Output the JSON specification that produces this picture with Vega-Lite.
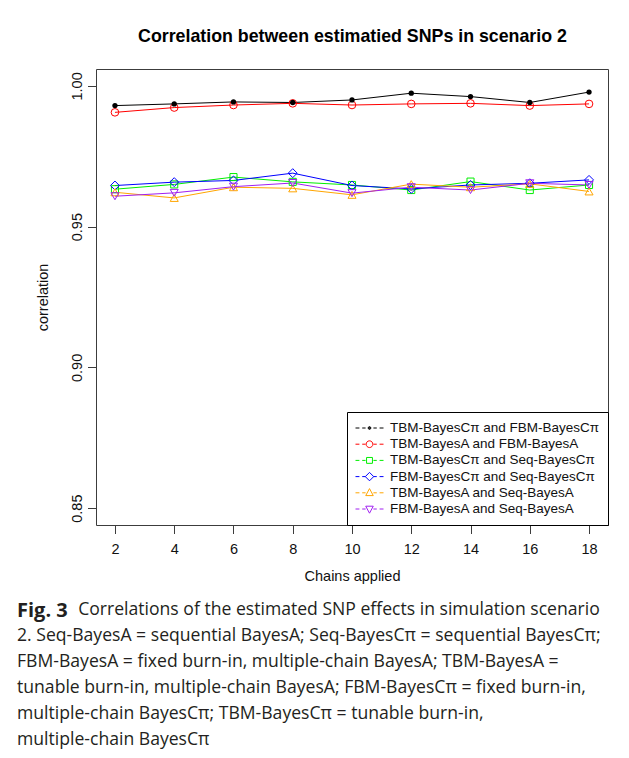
{
  "$schema": "https://vega.github.io/schema/vega-lite/v6.json",
  "width": 512,
  "height": 456,
  "autosize": {"type": "none"},
  "padding": {"left": 96, "top": 69, "right": 21, "bottom": 233},
  "background": "white",
  "title": {
    "text": "Fig. 3",
    "subtitle": [
      "\u2800\u2800\u2800\u2800\u00a0\u00a0Correlations of the estimated SNP effects in simulation scenario",
      "2. Seq-BayesA = sequential BayesA; Seq-BayesCπ = sequential BayesCπ;",
      "FBM-BayesA = fixed burn-in, multiple-chain BayesA; TBM-BayesA =",
      "tunable burn-in, multiple-chain BayesA; FBM-BayesCπ = fixed burn-in,",
      "multiple-chain  BayesCπ;  TBM-BayesCπ = tunable  burn-in,",
      "multiple-chain  BayesCπ"
    ],
    "orient": "bottom",
    "anchor": "start",
    "frame": "group",
    "dx": -79,
    "offset": 18,
    "font": "Open Sans",
    "fontSize": 20,
    "fontWeight": "bold",
    "color": "#231f20",
    "subtitleFont": "Open Sans",
    "subtitleFontSize": 17.6,
    "subtitleFontWeight": "normal",
    "subtitleColor": "#231f20",
    "subtitleLineHeight": 26,
    "subtitlePadding": -20
  },
  "data": {
    "values": [
      {"series": "TBM-BayesCπ and FBM-BayesCπ", "chains": 2, "corr": 0.9930},
      {"series": "TBM-BayesCπ and FBM-BayesCπ", "chains": 4, "corr": 0.9936},
      {"series": "TBM-BayesCπ and FBM-BayesCπ", "chains": 6, "corr": 0.9943},
      {"series": "TBM-BayesCπ and FBM-BayesCπ", "chains": 8, "corr": 0.9941},
      {"series": "TBM-BayesCπ and FBM-BayesCπ", "chains": 10, "corr": 0.9950},
      {"series": "TBM-BayesCπ and FBM-BayesCπ", "chains": 12, "corr": 0.9974},
      {"series": "TBM-BayesCπ and FBM-BayesCπ", "chains": 14, "corr": 0.9962},
      {"series": "TBM-BayesCπ and FBM-BayesCπ", "chains": 16, "corr": 0.9941},
      {"series": "TBM-BayesCπ and FBM-BayesCπ", "chains": 18, "corr": 0.9978},
      {"series": "TBM-BayesA and FBM-BayesA", "chains": 2, "corr": 0.9906},
      {"series": "TBM-BayesA and FBM-BayesA", "chains": 4, "corr": 0.9923},
      {"series": "TBM-BayesA and FBM-BayesA", "chains": 6, "corr": 0.9932},
      {"series": "TBM-BayesA and FBM-BayesA", "chains": 8, "corr": 0.9938},
      {"series": "TBM-BayesA and FBM-BayesA", "chains": 10, "corr": 0.9932},
      {"series": "TBM-BayesA and FBM-BayesA", "chains": 12, "corr": 0.9936},
      {"series": "TBM-BayesA and FBM-BayesA", "chains": 14, "corr": 0.9938},
      {"series": "TBM-BayesA and FBM-BayesA", "chains": 16, "corr": 0.9930},
      {"series": "TBM-BayesA and FBM-BayesA", "chains": 18, "corr": 0.9936},
      {"series": "TBM-BayesCπ and Seq-BayesCπ", "chains": 2, "corr": 0.9633},
      {"series": "TBM-BayesCπ and Seq-BayesCπ", "chains": 4, "corr": 0.9650},
      {"series": "TBM-BayesCπ and Seq-BayesCπ", "chains": 6, "corr": 0.9676},
      {"series": "TBM-BayesCπ and Seq-BayesCπ", "chains": 8, "corr": 0.9659},
      {"series": "TBM-BayesCπ and Seq-BayesCπ", "chains": 10, "corr": 0.9648},
      {"series": "TBM-BayesCπ and Seq-BayesCπ", "chains": 12, "corr": 0.9630},
      {"series": "TBM-BayesCπ and Seq-BayesCπ", "chains": 14, "corr": 0.9660},
      {"series": "TBM-BayesCπ and Seq-BayesCπ", "chains": 16, "corr": 0.9630},
      {"series": "TBM-BayesCπ and Seq-BayesCπ", "chains": 18, "corr": 0.9648},
      {"series": "FBM-BayesCπ and Seq-BayesCπ", "chains": 2, "corr": 0.9646},
      {"series": "FBM-BayesCπ and Seq-BayesCπ", "chains": 4, "corr": 0.9658},
      {"series": "FBM-BayesCπ and Seq-BayesCπ", "chains": 6, "corr": 0.9664},
      {"series": "FBM-BayesCπ and Seq-BayesCπ", "chains": 8, "corr": 0.9690},
      {"series": "FBM-BayesCπ and Seq-BayesCπ", "chains": 10, "corr": 0.9646},
      {"series": "FBM-BayesCπ and Seq-BayesCπ", "chains": 12, "corr": 0.9634},
      {"series": "FBM-BayesCπ and Seq-BayesCπ", "chains": 14, "corr": 0.9648},
      {"series": "FBM-BayesCπ and Seq-BayesCπ", "chains": 16, "corr": 0.9654},
      {"series": "FBM-BayesCπ and Seq-BayesCπ", "chains": 18, "corr": 0.9666},
      {"series": "TBM-BayesA and Seq-BayesA", "chains": 2, "corr": 0.9622},
      {"series": "TBM-BayesA and Seq-BayesA", "chains": 4, "corr": 0.9602},
      {"series": "TBM-BayesA and Seq-BayesA", "chains": 6, "corr": 0.9640},
      {"series": "TBM-BayesA and Seq-BayesA", "chains": 8, "corr": 0.9636},
      {"series": "TBM-BayesA and Seq-BayesA", "chains": 10, "corr": 0.9613},
      {"series": "TBM-BayesA and Seq-BayesA", "chains": 12, "corr": 0.9651},
      {"series": "TBM-BayesA and Seq-BayesA", "chains": 14, "corr": 0.9640},
      {"series": "TBM-BayesA and Seq-BayesA", "chains": 16, "corr": 0.9652},
      {"series": "TBM-BayesA and Seq-BayesA", "chains": 18, "corr": 0.9625},
      {"series": "FBM-BayesA and Seq-BayesA", "chains": 2, "corr": 0.9608},
      {"series": "FBM-BayesA and Seq-BayesA", "chains": 4, "corr": 0.9620},
      {"series": "FBM-BayesA and Seq-BayesA", "chains": 6, "corr": 0.9642},
      {"series": "FBM-BayesA and Seq-BayesA", "chains": 8, "corr": 0.9655},
      {"series": "FBM-BayesA and Seq-BayesA", "chains": 10, "corr": 0.9619},
      {"series": "FBM-BayesA and Seq-BayesA", "chains": 12, "corr": 0.9640},
      {"series": "FBM-BayesA and Seq-BayesA", "chains": 14, "corr": 0.9630},
      {"series": "FBM-BayesA and Seq-BayesA", "chains": 16, "corr": 0.9654},
      {"series": "FBM-BayesA and Seq-BayesA", "chains": 18, "corr": 0.9648}
    ]
  },
  "config": {
    "view": {"stroke": "#3c3c3c", "strokeWidth": 1},
    "font": "Liberation Sans",
    "axis": {
      "grid": false,
      "domain": false,
      "tickColor": "#3c3c3c",
      "tickSize": 8.5,
      "labelColor": "#111111",
      "titleColor": "#111111",
      "labelFont": "Liberation Sans",
      "titleFont": "Liberation Sans",
      "labelFontSize": 14.5,
      "titleFontSize": 14.5,
      "titleFontWeight": "normal"
    },
    "legend": {
      "orient": "bottom-right",
      "offset": 0,
      "padding": 8,
      "strokeColor": "#000000",
      "fillColor": "white",
      "labelFont": "Liberation Sans",
      "labelFontSize": 13.5,
      "labelColor": "#111111",
      "labelOffset": 6,
      "labelLimit": 400,
      "symbolSize": 784,
      "symbolStrokeWidth": 1,
      "symbolFillColor": "transparent",
      "symbolOpacity": 1,
      "rowPadding": 0.2,
      "clipHeight": 16
    }
  },
  "resolve": {"axis": {"x": "independent"}},
  "layer": [
    {
      "mark": {"type": "line", "strokeWidth": 1},
      "encoding": {
        "x": {
          "field": "chains", "type": "quantitative",
          "scale": {"domain": [1.36, 18.64], "nice": false, "zero": false},
          "axis": {"values": [2, 4, 6, 8, 10, 12, 14, 16, 18], "title": "Chains applied", "labelPadding": 9, "titlePadding": 13, "labelFlush": false}
        },
        "y": {
          "field": "corr", "type": "quantitative",
          "scale": {"domain": [0.844, 1.006], "nice": false, "zero": false},
          "axis": {"values": [0.85, 0.9, 0.95, 1.0], "format": ".2f", "labelAngle": 270, "labelAlign": "center", "labelBaseline": "alphabetic", "labelPadding": 6, "title": "correlation", "titlePadding": 19}
        },
        "color": {
          "field": "series", "type": "nominal",
          "scale": {
            "domain": ["TBM-BayesCπ and FBM-BayesCπ", "TBM-BayesA and FBM-BayesA", "TBM-BayesCπ and Seq-BayesCπ", "FBM-BayesCπ and Seq-BayesCπ", "TBM-BayesA and Seq-BayesA", "FBM-BayesA and Seq-BayesA"],
            "range": ["#000000", "#ff0000", "#00ee00", "#0000ff", "#ffa500", "#a020f0"]
          },
          "legend": {"title": null}
        }
      }
    },
    {
      "transform": [{"filter": "datum.series === 'TBM-BayesA and FBM-BayesA'"}],
      "mark": {"type": "point", "filled": false, "shape": "circle", "size": 58, "strokeWidth": 1, "opacity": 1},
      "encoding": {
        "x": {"field": "chains", "type": "quantitative", "axis": null},
        "y": {
          "field": "corr", "type": "quantitative",
          "scale": {"domain": [0.844, 1.006], "nice": false, "zero": false},
          "axis": {"values": [0.85, 0.9, 0.95, 1.0], "format": ".2f", "labelAngle": 270, "labelAlign": "center", "labelBaseline": "alphabetic", "labelPadding": 6, "title": "correlation", "titlePadding": 19}
        },
        "color": {"field": "series", "type": "nominal", "legend": {"title": null}}
      }
    },
    {
      "transform": [{"filter": "datum.series === 'TBM-BayesCπ and Seq-BayesCπ'"}],
      "mark": {"type": "point", "filled": false, "shape": "square", "size": 50, "strokeWidth": 1, "opacity": 1},
      "encoding": {
        "x": {"field": "chains", "type": "quantitative", "axis": null},
        "y": {
          "field": "corr", "type": "quantitative",
          "scale": {"domain": [0.844, 1.006], "nice": false, "zero": false},
          "axis": {"values": [0.85, 0.9, 0.95, 1.0], "format": ".2f", "labelAngle": 270, "labelAlign": "center", "labelBaseline": "alphabetic", "labelPadding": 6, "title": "correlation", "titlePadding": 19}
        },
        "color": {"field": "series", "type": "nominal", "legend": {"title": null}}
      }
    },
    {
      "transform": [{"filter": "datum.series === 'FBM-BayesCπ and Seq-BayesCπ'"}],
      "mark": {"type": "point", "filled": false, "shape": "diamond", "size": 80, "strokeWidth": 1, "opacity": 1},
      "encoding": {
        "x": {"field": "chains", "type": "quantitative", "axis": null},
        "y": {
          "field": "corr", "type": "quantitative",
          "scale": {"domain": [0.844, 1.006], "nice": false, "zero": false},
          "axis": {"values": [0.85, 0.9, 0.95, 1.0], "format": ".2f", "labelAngle": 270, "labelAlign": "center", "labelBaseline": "alphabetic", "labelPadding": 6, "title": "correlation", "titlePadding": 19}
        },
        "color": {"field": "series", "type": "nominal", "legend": {"title": null}}
      }
    },
    {
      "transform": [{"filter": "datum.series === 'TBM-BayesA and Seq-BayesA'"}],
      "mark": {"type": "point", "filled": false, "shape": "triangle-up", "size": 65, "strokeWidth": 1, "opacity": 1},
      "encoding": {
        "x": {"field": "chains", "type": "quantitative", "axis": null},
        "y": {
          "field": "corr", "type": "quantitative",
          "scale": {"domain": [0.844, 1.006], "nice": false, "zero": false},
          "axis": {"values": [0.85, 0.9, 0.95, 1.0], "format": ".2f", "labelAngle": 270, "labelAlign": "center", "labelBaseline": "alphabetic", "labelPadding": 6, "title": "correlation", "titlePadding": 19}
        },
        "color": {"field": "series", "type": "nominal", "legend": {"title": null}}
      }
    },
    {
      "transform": [{"filter": "datum.series === 'FBM-BayesA and Seq-BayesA'"}],
      "mark": {"type": "point", "filled": false, "shape": "triangle-down", "size": 65, "strokeWidth": 1, "opacity": 1},
      "encoding": {
        "x": {"field": "chains", "type": "quantitative", "axis": null},
        "y": {
          "field": "corr", "type": "quantitative",
          "scale": {"domain": [0.844, 1.006], "nice": false, "zero": false},
          "axis": {"values": [0.85, 0.9, 0.95, 1.0], "format": ".2f", "labelAngle": 270, "labelAlign": "center", "labelBaseline": "alphabetic", "labelPadding": 6, "title": "correlation", "titlePadding": 19}
        },
        "color": {"field": "series", "type": "nominal", "legend": {"title": null}}
      }
    },
    {
      "transform": [{"filter": "datum.series === 'TBM-BayesCπ and FBM-BayesCπ'"}],
      "mark": {"type": "point", "filled": true, "shape": "circle", "size": 28, "color": "#000000", "opacity": 1},
      "encoding": {
        "x": {"field": "chains", "type": "quantitative", "axis": null},
        "y": {
          "field": "corr", "type": "quantitative",
          "scale": {"domain": [0.844, 1.006], "nice": false, "zero": false},
          "axis": {"values": [0.85, 0.9, 0.95, 1.0], "format": ".2f", "labelAngle": 270, "labelAlign": "center", "labelBaseline": "alphabetic", "labelPadding": 6, "title": "correlation", "titlePadding": 19}
        }
      }
    },
    {
      "transform": [{"filter": "datum.chains > 100"}],
      "mark": {"type": "point", "filled": false, "strokeWidth": 1},
      "encoding": {
        "x": {"field": "chains", "type": "quantitative", "axis": null},
        "y": {
          "field": "corr", "type": "quantitative",
          "scale": {"domain": [0.844, 1.006], "nice": false, "zero": false},
          "axis": {"values": [0.85, 0.9, 0.95, 1.0], "format": ".2f", "labelAngle": 270, "labelAlign": "center", "labelBaseline": "alphabetic", "labelPadding": 6, "title": "correlation", "titlePadding": 19}
        },
        "color": {"field": "series", "type": "nominal", "legend": {"title": null}},
        "shape": {
          "field": "series", "type": "nominal",
          "scale": {
            "domain": ["TBM-BayesCπ and FBM-BayesCπ", "TBM-BayesA and FBM-BayesA", "TBM-BayesCπ and Seq-BayesCπ", "FBM-BayesCπ and Seq-BayesCπ", "TBM-BayesA and Seq-BayesA", "FBM-BayesA and Seq-BayesA"],
            "range": [
              "M-1,0H-0.72M-0.52,0H-0.28M0.28,0H0.52M0.72,0H1M0.1,0A0.1,0.1,0,1,1,-0.1,0A0.1,0.1,0,1,1,0.1,0M0.05,0A0.05,0.05,0,1,1,-0.05,0A0.05,0.05,0,1,1,0.05,0",
              "M-1,0H-0.72M-0.52,0H-0.28M0.28,0H0.52M0.72,0H1M0.24,0A0.24,0.24,0,1,1,-0.24,0A0.24,0.24,0,1,1,0.24,0Z",
              "M-1,0H-0.72M-0.52,0H-0.28M0.28,0H0.52M0.72,0H1M-0.21,-0.21H0.21V0.21H-0.21Z",
              "M-1,0H-0.72M-0.52,0H-0.28M0.28,0H0.52M0.72,0H1M0,-0.3L0.3,0L0,0.3L-0.3,0Z",
              "M-1,0H-0.72M-0.52,0H-0.28M0.28,0H0.52M0.72,0H1M0,-0.3L0.27,0.2L-0.27,0.2Z",
              "M-1,0H-0.72M-0.52,0H-0.28M0.28,0H0.52M0.72,0H1M0,0.3L0.27,-0.2L-0.27,-0.2Z"
            ]
          },
          "legend": {"title": null}
        }
      }
    },
    {
      "mark": {"type": "point", "opacity": 0},
      "encoding": {
        "x": {
          "field": "chains", "type": "quantitative",
          "axis": {"orient": "top", "labels": false, "ticks": false, "domain": false, "title": "Correlation between estimatied SNPs in scenario 2", "titleFontWeight": "bold", "titleFontSize": 17.8, "titlePadding": 24, "titleColor": "#000000"}
        },
        "y": {
          "field": "corr", "type": "quantitative",
          "scale": {"domain": [0.844, 1.006], "nice": false, "zero": false},
          "axis": {"values": [0.85, 0.9, 0.95, 1.0], "format": ".2f", "labelAngle": 270, "labelAlign": "center", "labelBaseline": "alphabetic", "labelPadding": 6, "title": "correlation", "titlePadding": 19}
        }
      }
    }
  ]
}
